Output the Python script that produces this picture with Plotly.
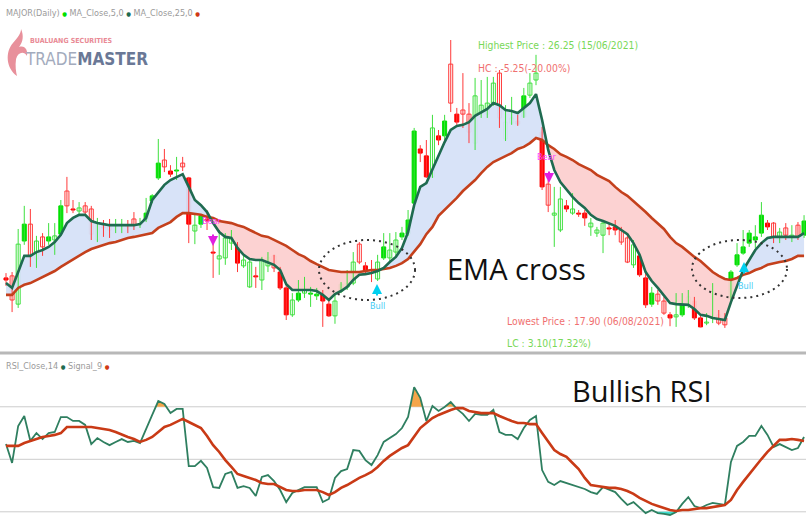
import plotly.graph_objects as go

W, H = 806, 516

# ---------------- data (MAJOR, daily) ----------------
opens = [
    19.35, 19.41, 18.59, 20.42, 20.91, 19.90, 20.54, 20.42, 20.45, 20.62,
    21.87, 21.35, 21.29, 21.44, 21.35, 20.45, 20.83, 20.83, 20.86, 20.86,
    20.86, 21.06, 20.88, 21.03, 21.58, 22.25, 22.77, 22.45, 22.45, 22.68,
    22.25, 20.71, 20.91, 21.06, 20.10, 19.90, 19.93, 20.36, 20.31, 19.70,
    19.09, 19.41, 19.29, 19.70, 19.99, 19.52, 19.06, 18.28, 18.71, 18.91,
    18.88, 18.83, 18.86, 18.59, 18.25, 18.97, 19.09, 19.20, 20.33, 19.70,
    19.58, 19.32, 19.93, 19.93, 20.10, 20.54, 20.62, 21.52, 23.09, 22.89,
    22.28, 23.47, 23.47, 25.55, 24.10, 24.22, 24.10, 23.26, 24.13, 24.10,
    24.42, 25.29, 23.38, 23.84, 23.90, 24.02, 24.65, 25.09, 23.58, 22.07,
    21.17, 20.74, 21.44, 21.23, 21.23, 21.23, 20.83, 20.65, 20.59, 20.80,
    20.83, 20.74, 20.51, 19.73, 19.99, 19.35, 18.59, 18.88, 18.68, 18.28,
    18.22, 18.28, 18.57, 18.68, 18.19, 18.04, 18.19, 18.28, 18.19, 18.77,
    19.73, 20.07, 20.36, 20.45, 20.65, 20.94, 20.94, 20.45, 20.80, 20.51,
    20.88, 20.59,
]
highs = [
    19.49, 19.52, 20.77, 21.44, 21.35, 20.57, 20.65, 20.94, 20.94, 21.61,
    22.28, 21.61, 21.55, 21.55, 21.44, 21.09, 21.03, 21.06, 21.06, 21.06,
    21.03, 21.26, 21.09, 21.67, 21.78, 23.38, 23.09, 22.62, 22.86, 22.86,
    22.28, 21.20, 21.20, 21.32, 20.45, 20.74, 20.65, 20.74, 20.39, 20.02,
    19.87, 19.67, 19.96, 20.10, 20.02, 19.67, 19.20, 18.91, 19.29, 19.38,
    19.09, 19.06, 19.00, 18.71, 18.86, 19.23, 19.58, 20.10, 20.39, 19.81,
    19.87, 20.02, 20.65, 20.65, 20.68, 20.83, 21.32, 23.70, 23.20, 23.35,
    24.08, 23.64, 24.08, 26.25, 24.28, 25.29, 24.42, 25.15, 25.09, 25.18,
    25.18, 25.38, 24.36, 24.60, 24.08, 24.86, 25.29, 25.82, 23.73, 22.19,
    21.99, 21.99, 21.61, 21.81, 21.32, 21.32, 21.09, 20.83, 21.03, 20.94,
    21.03, 20.83, 20.65, 20.45, 20.07, 19.49, 19.09, 19.00, 18.80, 18.36,
    18.91, 18.91, 19.00, 18.80, 18.28, 18.33, 19.20, 18.42, 18.33, 19.58,
    20.36, 20.74, 20.74, 20.88, 21.55, 21.03, 20.97, 20.80, 20.94, 20.88,
    20.97, 21.17,
]
lows = [
    19.12, 18.36, 18.48, 20.31, 19.67, 19.64, 19.99, 20.31, 20.02, 20.57,
    21.23, 21.23, 21.18, 21.18, 20.45, 20.39, 20.54, 20.51, 20.65, 20.65,
    20.65, 20.74, 20.80, 20.97, 21.52, 22.19, 22.42, 22.28, 22.19, 22.45,
    20.36, 20.33, 20.80, 20.74, 19.35, 19.44, 19.73, 20.16, 19.52, 19.64,
    19.06, 19.06, 19.00, 19.52, 19.52, 19.00, 18.13, 18.22, 18.65, 18.77,
    18.51, 18.71, 17.93, 18.22, 18.02, 18.91, 19.00, 19.14, 19.75, 19.49,
    19.23, 19.26, 19.87, 19.81, 19.96, 20.45, 20.57, 21.46, 22.71, 22.25,
    22.25, 23.20, 23.35, 24.16, 23.79, 23.70, 23.26, 23.06, 23.99, 23.99,
    24.34, 23.70, 23.32, 23.79, 23.76, 23.99, 24.57, 24.94, 21.90, 21.26,
    20.25, 20.68, 21.26, 21.18, 21.12, 20.86, 20.57, 20.54, 20.07, 20.59,
    20.59, 20.31, 19.78, 19.64, 19.38, 18.48, 18.51, 18.57, 18.28, 17.95,
    17.93, 18.22, 18.48, 18.13, 17.92, 17.98, 18.04, 17.98, 17.90, 18.71,
    19.67, 20.02, 20.25, 20.22, 20.54, 20.74, 20.36, 20.36, 20.45, 20.39,
    20.45, 20.51,
]
closes = [
    19.29, 18.71, 20.33, 20.91, 19.93, 20.42, 20.25, 20.54, 20.57, 21.44,
    21.44, 21.32, 21.38, 21.26, 20.62, 20.94, 20.80, 20.74, 20.88, 20.88,
    20.83, 20.88, 20.91, 21.23, 21.73, 22.68, 22.57, 22.36, 22.48, 22.57,
    20.91, 20.88, 21.15, 21.00, 20.07, 19.99, 20.51, 20.48, 19.78, 19.87,
    19.81, 19.38, 19.87, 19.93, 19.64, 19.06, 18.28, 18.71, 18.91, 19.00,
    18.91, 18.88, 18.68, 18.25, 18.68, 19.17, 19.20, 19.81, 19.81, 19.55,
    19.55, 19.81, 20.25, 20.16, 20.45, 20.65, 21.03, 23.61, 22.97, 22.28,
    23.70, 23.35, 23.90, 24.42, 23.87, 24.10, 23.58, 24.63, 24.36, 24.42,
    25.00, 23.99, 23.87, 23.99, 23.81, 24.63, 25.00, 25.29, 21.99, 21.46,
    21.23, 21.64, 21.35, 21.35, 21.20, 21.09, 20.94, 20.74, 20.94, 20.77,
    20.74, 20.39, 19.81, 20.31, 19.44, 18.57, 18.91, 18.68, 18.33, 18.19,
    18.28, 18.59, 18.80, 18.19, 17.93, 18.07, 18.22, 18.04, 17.99, 19.52,
    20.02, 20.25, 20.65, 20.54, 21.17, 20.83, 20.54, 20.68, 20.59, 20.59,
    20.51, 21.00,
]
# candle body drawing style: F = filled, H = hollow
body_style = ("FHHFHHHFHF" "HFHHHHFHFF" "FHFFFFHFFH" "FHFFFHHHFH" "HFHHHFFHFH"
              "FFFFHFHHHF" "FHFHHFFFFF" "HFFHFHHHHH" "HHHHFFHHFH" "HHFHFFHHHF"
              "FHHHFFFHHF" "HFHFFHFHHF" "FFFFFFHHHH" "HF")

ema5 = [
    19.20, 19.06, 19.52, 19.99, 19.99, 20.10, 20.16, 20.25, 20.39, 20.60,
    20.94, 21.09, 21.18, 21.18, 21.00, 20.94, 20.91, 20.88, 20.88, 20.88,
    20.88, 20.88, 20.91, 21.09, 21.61, 21.84, 22.05, 22.19, 22.28, 22.36,
    21.99, 21.61, 21.46, 21.26, 20.94, 20.68, 20.54, 20.51, 20.22, 20.02,
    19.90, 19.87, 19.87, 19.81, 19.73, 19.58, 19.17, 19.00, 19.00, 19.00,
    19.00, 18.97, 18.86, 18.71, 18.88, 18.97, 19.09, 19.29, 19.44, 19.46,
    19.49, 19.55, 19.64, 19.81, 19.96, 20.22, 20.68, 21.46, 21.99, 22.10,
    22.51, 22.89, 23.29, 23.64, 23.76, 23.79, 23.87, 24.05, 24.16, 24.25,
    24.42, 24.36, 24.22, 24.19, 24.13, 24.28, 24.42, 24.68, 23.93, 23.06,
    22.48, 22.13, 21.90, 21.70, 21.52, 21.38, 21.18, 21.06, 21.00, 20.94,
    20.86, 20.74, 20.62, 20.36, 20.02, 19.52, 19.26, 19.06, 18.83, 18.62,
    18.59, 18.59, 18.57, 18.45, 18.28, 18.25, 18.19, 18.16, 18.13, 18.65,
    19.09, 19.58, 19.87, 20.16, 20.36, 20.51, 20.54, 20.54, 20.54, 20.54,
    20.54, 20.65,
]
ema25 = [
    18.86, 18.86, 19.06, 19.15, 19.20, 19.29, 19.38, 19.46, 19.55, 19.67,
    19.78, 19.90, 19.99, 20.10, 20.19, 20.25, 20.31, 20.36, 20.39, 20.45,
    20.51, 20.54, 20.57, 20.60, 20.65, 20.80, 20.88, 20.97, 21.12, 21.23,
    21.23, 21.20, 21.18, 21.12, 21.09, 21.00, 20.97, 20.94, 20.88, 20.83,
    20.74, 20.65, 20.57, 20.54, 20.45, 20.36, 20.28, 20.16, 20.04, 19.96,
    19.84, 19.75, 19.67, 19.58, 19.55, 19.52, 19.52, 19.52, 19.52, 19.55,
    19.58, 19.58, 19.61, 19.64, 19.70, 19.78, 19.90, 20.10, 20.33, 20.62,
    20.83, 21.15, 21.32, 21.52, 21.67, 21.87, 22.02, 22.19, 22.39, 22.57,
    22.71, 22.80, 22.89, 22.97, 23.09, 23.15, 23.26, 23.41, 23.35, 23.20,
    23.09, 22.94, 22.86, 22.77, 22.65, 22.57, 22.48, 22.34, 22.25, 22.16,
    21.99, 21.84, 21.73, 21.58, 21.41, 21.26, 21.09, 20.94, 20.77, 20.54,
    20.36, 20.25, 20.10, 19.96, 19.84, 19.67, 19.52, 19.41, 19.32, 19.29,
    19.35, 19.44, 19.49, 19.58, 19.64, 19.73, 19.78, 19.81, 19.84, 19.90,
    19.99, 19.99,
]
rsi14 = [
    55.8, 48.6, 62.7, 66.5, 57.0, 60.0, 57.7, 60.0, 60.4, 66.1,
    66.1, 64.6, 64.6, 63.1, 55.8, 58.1, 56.6, 55.4, 56.6, 57.7,
    56.6, 57.0, 56.2, 61.9, 66.9, 72.2, 71.1, 67.6, 69.2, 69.2,
    47.4, 47.4, 49.4, 46.7, 39.4, 39.1, 44.4, 45.2, 39.1, 39.8,
    39.1, 36.0, 43.3, 44.0, 41.7, 38.3, 33.7, 37.2, 38.3, 39.4,
    39.4, 39.4, 33.7, 34.9, 42.9, 45.5, 46.3, 53.5, 53.2, 49.7,
    47.8, 51.6, 56.6, 58.1, 59.6, 61.9, 66.1, 77.5, 73.4, 64.6,
    70.3, 68.4, 69.9, 71.8, 69.2, 67.3, 64.6, 67.3, 66.9, 66.9,
    68.8, 60.4, 59.3, 59.3, 57.7, 61.9, 65.0, 66.5, 45.9, 41.4,
    40.2, 41.7, 41.0, 40.2, 39.4, 38.7, 37.5, 36.8, 39.4, 38.3,
    37.5, 34.9, 32.6, 33.7, 31.4, 29.5, 30.7, 29.5, 29.2, 28.8,
    29.9, 33.0, 35.6, 32.2, 31.4, 32.6, 33.4, 33.0, 32.6, 49.0,
    55.1, 56.6, 58.9, 58.9, 62.7, 59.3, 54.7, 55.8, 54.7, 53.5,
    54.3, 58.5,
]
signal9 = [
    55.1, 55.1, 55.1, 56.2, 57.0, 57.7, 58.5, 58.9, 59.3, 60.0,
    62.3, 62.3, 62.3, 62.3, 62.3, 61.9, 61.5, 61.2, 60.4, 59.3,
    58.5, 57.7, 56.6, 57.4, 58.5, 60.4, 62.3, 63.1, 64.2, 65.4,
    64.2, 63.1, 61.9, 58.9, 55.4, 52.8, 49.7, 47.1, 44.4, 43.6,
    42.9, 42.1, 41.0, 40.6, 40.6, 39.4, 38.3, 37.9, 37.9, 38.3,
    38.3, 38.3, 37.5, 36.4, 37.5, 39.1, 40.2, 41.7, 42.9, 44.0,
    45.2, 47.1, 49.4, 51.3, 52.8, 54.3, 55.4, 58.5, 61.9, 63.8,
    65.7, 66.9, 68.0, 68.8, 69.5, 69.5, 68.4, 68.0, 67.6, 67.6,
    67.6, 66.5, 65.4, 64.6, 63.8, 63.8, 63.4, 63.4, 60.0, 56.6,
    53.5, 52.0, 50.9, 48.6, 46.3, 42.9, 40.2, 39.8, 39.4, 39.1,
    39.1, 38.7, 37.9, 36.8, 35.3, 34.1, 33.0, 32.2, 31.4, 30.7,
    30.3, 30.7, 30.7, 31.0, 31.4, 31.4, 31.8, 32.2, 32.6, 34.5,
    38.3, 41.4, 44.4, 47.4, 50.1, 52.8, 55.1, 57.4, 57.4, 57.7,
    57.4, 57.0,
]
rsi_levels = [70, 50, 30]
highest_date = "15/06/2021"
lowest_date = "06/08/2021"

# ---------------- derived ----------------
n = len(closes)
idx = list(range(n))
highest = max(highs)
lowest = min(lows)
last = closes[-1]
hc = last - highest
lc = last - lowest

# ---------------- layout geometry ----------------
PX_PER_BAR = 6.092
FIRST_PX = 6.0
x_range = [-FIRST_PX / PX_PER_BAR, (W - FIRST_PX) / PX_PER_BAR]
TOP_BOTTOM_PX = 350
RSI_TOP_PX = 355
price_range = [17.26, 27.41]
rsi_range = [28.4, 89.73]

GREEN = "#00e000"
GREEN_L = "#3fe03f"
RED = "#ff0000"
RED_L = "#ff3a3a"
NARROW = "Liberation Sans Narrow, DejaVu Sans Condensed, Roboto, sans-serif"


def P(x, y):
    return x / W, 1 - y / H


def split_fill(xs, a, b):
    X, A, B = [], [], []
    for i in range(len(xs)):
        if i > 0:
            d0 = a[i - 1] - b[i - 1]
            d1 = a[i] - b[i]
            if d0 * d1 < 0:
                t = d0 / (d0 - d1)
                xc = xs[i - 1] + t * (xs[i] - xs[i - 1])
                vc = b[i - 1] + t * (b[i] - b[i - 1])
                X.append(xc); A.append(vc); B.append(vc)
        X.append(xs[i]); A.append(a[i]); B.append(b[i])
    return X, A, B


traces = []


def band(xs, a, b, color_up, color_dn, xa, ya):
    X, A, B = split_fill(xs, a, b)
    up = [max(p, q) for p, q in zip(A, B)]
    dn = [min(p, q) for p, q in zip(A, B)]
    out = []
    if color_up:
        out.append(go.Scatter(x=X, y=B, mode="lines", line=dict(width=0), hoverinfo="skip",
                              xaxis=xa, yaxis=ya))
        out.append(go.Scatter(x=X, y=up, mode="lines", line=dict(width=0), fill="tonexty",
                              fillcolor=color_up, hoverinfo="skip", xaxis=xa, yaxis=ya))
    if color_dn:
        out.append(go.Scatter(x=X, y=B, mode="lines", line=dict(width=0), hoverinfo="skip",
                              xaxis=xa, yaxis=ya))
        out.append(go.Scatter(x=X, y=dn, mode="lines", line=dict(width=0), fill="tonexty",
                              fillcolor=color_dn, hoverinfo="skip", xaxis=xa, yaxis=ya))
    return out


# EMA cloud
traces += band(idx, ema5, ema25, "rgba(214,226,248,0.95)", "rgba(252,208,208,0.95)", "x", "y")

# wicks
for col, pick in ((GREEN_L, lambda i: closes[i] >= opens[i]), (RED_L, lambda i: closes[i] < opens[i])):
    wx, wy = [], []
    for i in idx:
        if pick(i):
            wx += [i, i, None]
            wy += [lows[i], highs[i], None]
    traces.append(go.Scatter(x=wx, y=wy, mode="lines", line=dict(color=col, width=1),
                             hoverinfo="skip", xaxis="x", yaxis="y"))

# bodies
for is_green in (True, False):
    for filled in (True, False):
        sel = [i for i in idx if (closes[i] >= opens[i]) == is_green and (body_style[i] == "F") == filled]
        if not sel:
            continue
        col = GREEN if is_green else RED
        lcol = col if filled else (GREEN_L if is_green else RED_L)
        traces.append(go.Bar(
            x=sel,
            base=[min(opens[i], closes[i]) for i in sel],
            y=[max(abs(closes[i] - opens[i]), 0.03) for i in sel],
            width=0.66,
            marker=dict(color=col if filled else "white", line=dict(color=lcol, width=1)),
            hoverinfo="skip", xaxis="x", yaxis="y"))

traces.append(go.Scatter(x=idx, y=ema25, mode="lines", line=dict(color="#c4401c", width=2.6),
                         hoverinfo="skip", xaxis="x", yaxis="y"))
traces.append(go.Scatter(x=idx, y=ema5, mode="lines", line=dict(color="#1f6b50", width=2.6),
                         hoverinfo="skip", xaxis="x", yaxis="y"))

# RSI pane
traces += band(idx, rsi14, [70] * n, "#f5a54a", None, "x2", "y2")
traces += band(idx, rsi14, [30] * n, None, "#3fe0d0", "x2", "y2")
traces.append(go.Scatter(x=idx, y=rsi14, mode="lines", line=dict(color="#2f7f60", width=1.8),
                         hoverinfo="skip", xaxis="x2", yaxis="y2"))
traces.append(go.Scatter(x=idx, y=signal9, mode="lines", line=dict(color="#c93a16", width=2.6),
                         hoverinfo="skip", xaxis="x2", yaxis="y2"))

fig = go.Figure(traces)

shapes = []
for lv in rsi_levels:
    shapes.append(dict(type="line", xref="paper", yref="y2", x0=0, x1=1, y0=lv, y1=lv,
                       line=dict(color="#cccccc", width=1), layer="below"))
sy = P(0, 353)[1]
shapes.append(dict(type="line", xref="paper", yref="paper", x0=0, x1=1, y0=sy, y1=sy,
                   line=dict(color="#b8b8b8", width=3)))
for (xa, ya, xb, yb) in ((319, 240, 415, 300), (692, 240, 787, 298)):
    x0, y1 = P(xa, ya)
    x1, y0 = P(xb, yb)
    shapes.append(dict(type="circle", xref="paper", yref="paper", x0=x0, x1=x1, y0=y0, y1=y1,
                       line=dict(color="#333333", width=2, dash="2px,4px")))

# logo flame
def path_px(cmds):
    s = ""
    for c, pts in cmds:
        s += c + " " + " ".join("%.4f,%.4f" % P(x, y) for x, y in pts) + " "
    return s + "Z"

flame = path_px([
    ("M", [(17, 76)]),
    ("C", [(6, 68), (5, 52), (13, 43)]),
    ("C", [(17, 38), (21, 34), (21, 29)]),
    ("C", [(24, 36), (23, 42), (19, 47)]),
    ("C", [(25, 45), (28, 50), (27, 56)]),
    ("C", [(24, 51), (18, 52), (16, 59)]),
    ("C", [(15, 66), (16, 72), (17, 76)]),
])
shapes.append(dict(type="path", xref="paper", yref="paper", path=flame,
                   fillcolor="#e8909b", line=dict(width=0)))

ann = []


def note(text, x, y, color, size, family=NARROW, xanchor="left", yanchor="middle"):
    ax_, ay_ = P(x, y)
    ann.append(dict(text=text, x=ax_, y=ay_, xref="paper", yref="paper", showarrow=False,
                    xanchor=xanchor, yanchor=yanchor, borderpad=0,
                    font=dict(color=color, size=size, family=family)))


def dot(c):
    return "<span style='color:%s;font-size:6px'>\u25cf</span>" % c


note("MAJOR(Daily) " + dot(GREEN) + " MA_Close,5,0 " + dot("#1f6b50") + " MA_Close,25,0 " + dot("#d03a14"),
     5, 13, "#9a9a9a", 9)
note("RSI_Close,14 " + dot("#1f6b50") + " Signal_9 " + dot("#d03a14"), 5, 366, "#9a9a9a", 9)
note("<b>BUALUANG SECURITIES</b>", 29, 41, "#e98a95", 7)
note("<span style='color:#a3abbd'>TRADE</span><b>MASTER</b>", 24, 59, "#6a7896", 17)

note("Highest Price : %.2f (%s)" % (highest, highest_date), 477, 45, "#78d858", 10.3)
note("HC : %.2f(%.2f%%)" % (hc, hc / highest * 100), 477, 68, "#f07070", 10.3)
note("Lowest Price : %.2f (%s)" % (lowest, lowest_date), 506, 321, "#f07070", 10.3)
note("LC : %.2f(%.2f%%)" % (lc, lc / lowest * 100), 506, 343, "#78d858", 10.3)

note("EMA cross", 446, 268, "#111111", 29, family="Open Sans, sans-serif")
note("Bullish RSI", 571, 390, "#111111", 29, family="Open Sans, sans-serif")

note("Bear", 212, 221, "#ff44ff", 9, xanchor="center")
note("Bear", 547, 157, "#ff44ff", 9, xanchor="center")
note("Bull", 377, 306, "#44ccf5", 9, xanchor="center")
note("Bull", 745, 286, "#44ccf5", 9, xanchor="center")


def arrow(x, y_tip, dy, color):
    ax_, ay_ = P(x, y_tip)
    ann.append(dict(text="", x=ax_, y=ay_, xref="paper", yref="paper", showarrow=True,
                    ax=0, ay=dy, arrowhead=2, arrowsize=1, arrowwidth=2, arrowcolor=color))


arrow(213, 246, -13, "#e020e0")
arrow(549, 183, -13, "#e020e0")
arrow(377, 284, 13, "#00d0f0")
arrow(744, 262, 13, "#00d0f0")

top_dom = [1 - TOP_BOTTOM_PX / H, 1]
rsi_dom = [0, 1 - RSI_TOP_PX / H]
hidden = dict(visible=False, showgrid=False, zeroline=False, fixedrange=True)

fig.update_layout(
    width=W, height=H,
    margin=dict(l=0, r=0, t=0, b=0),
    paper_bgcolor="white", plot_bgcolor="white",
    showlegend=False, barmode="overlay",
    xaxis=dict(domain=[0, 1], range=x_range, anchor="y", **hidden),
    yaxis=dict(domain=top_dom, range=price_range, anchor="x", **hidden),
    xaxis2=dict(domain=[0, 1], range=x_range, anchor="y2", **hidden),
    yaxis2=dict(domain=rsi_dom, range=rsi_range, anchor="x2", **hidden),
    shapes=shapes,
    annotations=ann,
)

fig.write_html(
    "out.html",
    config={"displayModeBar": False},
    post_script="document.body.style.margin='0px';document.body.style.overflow='hidden';",
)
